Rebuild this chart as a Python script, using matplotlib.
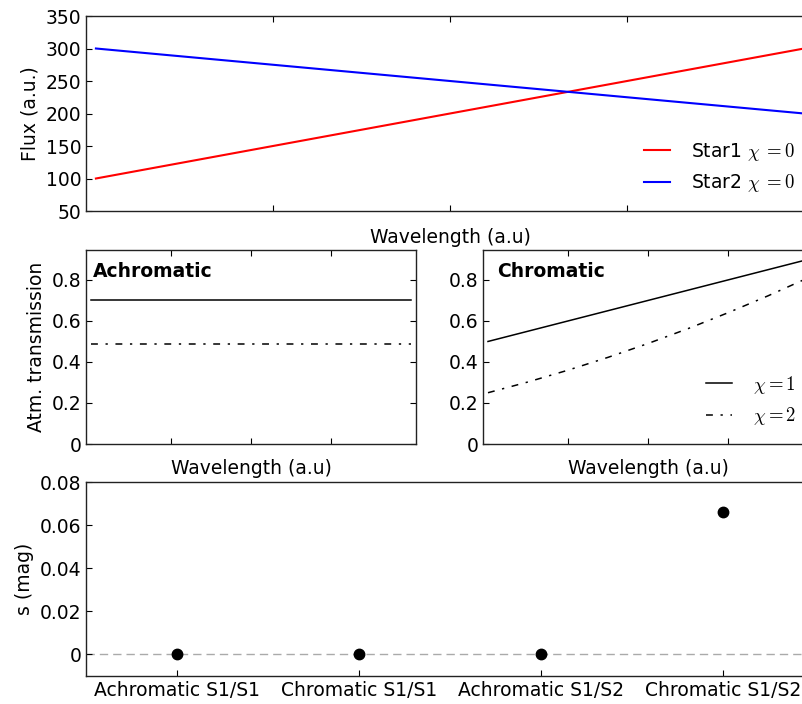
import numpy as np
import matplotlib
matplotlib.use("Agg")
import matplotlib.pyplot as plt
from matplotlib.ticker import FuncFormatter

# data
wavelength = [0, 1, 2, 3, 4]
star1_flux = [100, 150, 200, 250, 300]
star2_flux = [300, 275, 250, 225, 200]

wl_fine = [0, 0.5, 1, 1.5, 2, 2.5, 3, 3.5, 4]
achro_x1 = [0.7, 0.7, 0.7, 0.7, 0.7, 0.7, 0.7, 0.7, 0.7]
achro_x2 = [0.49, 0.49, 0.49, 0.49, 0.49, 0.49, 0.49, 0.49, 0.49]
chro_x1 = [0.5, 0.55, 0.6, 0.65, 0.7, 0.75, 0.8, 0.85, 0.9]
chro_x2 = [0.25, 0.3025, 0.36, 0.4225, 0.49, 0.5625, 0.64, 0.7225, 0.81]

cases = ["Achromatic S1/S1", "Chromatic S1/S1", "Achromatic S1/S2", "Chromatic S1/S2"]
shift = [0.0, 0.0, 0.0, 0.066]

plt.rcParams['font.size'] = 13.5
plt.rcParams['mathtext.fontset'] = 'cm'
plt.rcParams['xtick.direction'] = 'in'
plt.rcParams['ytick.direction'] = 'in'
plt.rcParams['xtick.top'] = True
plt.rcParams['ytick.right'] = True
plt.rcParams['xtick.major.size'] = 4
plt.rcParams['ytick.major.size'] = 4
plt.rcParams['axes.linewidth'] = 1.0
plt.rcParams['axes.edgecolor'] = '#222222'

gfmt = FuncFormatter(lambda v, p: '%g' % round(v, 6))
dashdot = (0, (4.5, 5, 1.5, 5))

fig = plt.figure(figsize=(8.03, 7.04), dpi=100)

W = (814 - 86) / 803
# top: fluxes
ax1 = fig.add_axes([86 / 803, 1 - 211 / 704, W, 195 / 704])
ax1.plot(wavelength, star1_flux, color='red', label=r'Star1 $\chi\;{=}0$')
ax1.plot(wavelength, star2_flux, color='blue', label=r'Star2 $\chi\;{=}0$')
ax1.set_xlim(-0.056, 4.056)
ax1.set_ylim(50, 350)
ax1.set_xticks([1, 2, 3])
ax1.set_xticklabels([])
ax1.set_yticks([50, 100, 150, 200, 250, 300, 350])
ax1.set_ylabel('Flux (a.u.)')
ax1.set_xlabel('Wavelength (a.u)', labelpad=9)
ax1.legend(loc='lower right', frameon=False, handlelength=1.4, handletextpad=1.1,
           bbox_to_anchor=(0.997, 0.0))

# middle left: achromatic
ax2 = fig.add_axes([86 / 803, 1 - 444 / 704, 330 / 803, 194 / 704])
ax2.plot(wl_fine, achro_x1, color='black', lw=1.1)
ax2.plot(wl_fine, achro_x2, color='black', lw=1.1, ls=dashdot)
ax2.set_xlim(-0.0625, 4.0625)
ax2.set_ylim(0, 0.946)
ax2.set_xticks([1, 2, 3])
ax2.set_xticklabels([])
ax2.set_yticks([0, 0.2, 0.4, 0.6, 0.8])
ax2.yaxis.set_major_formatter(gfmt)
ax2.set_ylabel('Atm. transmission')
ax2.set_xlabel('Wavelength (a.u)', labelpad=7)
ax2.text(0.02, 0.94, 'Achromatic', transform=ax2.transAxes, fontweight='bold',
         va='top', ha='left')

# middle right: chromatic
ax3 = fig.add_axes([483 / 803, 1 - 444 / 704, 330 / 803, 194 / 704])
ax3.plot(wl_fine, chro_x1, color='black', lw=1.1, label=r'$\chi{=}1$')
ax3.plot(wl_fine, chro_x2, color='black', lw=1.1, ls=dashdot, label=r'$\chi{=}2$')
ax3.set_xlim(-0.0625, 4.0625)
ax3.set_ylim(0, 0.946)
ax3.set_xticks([1, 2, 3])
ax3.set_xticklabels([])
ax3.set_yticks([0, 0.2, 0.4, 0.6, 0.8])
ax3.yaxis.set_major_formatter(gfmt)
ax3.set_xlabel('Wavelength (a.u)', labelpad=7)
ax3.text(0.042, 0.94, 'Chromatic', transform=ax3.transAxes, fontweight='bold',
         va='top', ha='left')
ax3.legend(loc='lower right', frameon=False, handlelength=1.4, handletextpad=1.1,
           bbox_to_anchor=(1.0, 0.0))

# bottom: shifts
ax4 = fig.add_axes([86 / 803, 1 - 676 / 704, W, 194 / 704])
xpos = np.arange(len(cases))
ax4.axhline(0, color='#aaaaaa', ls=(0, (6, 3.6)), lw=1.0, zorder=1)
ax4.plot(xpos, shift, 'o', color='black', ms=7.5, zorder=3)
ax4.set_xlim(-0.5, 3.5)
ax4.set_ylim(-0.0102, 0.08)
ax4.set_xticks(xpos)
ax4.set_xticklabels(cases)
ax4.tick_params(axis='x', top=False)
ax4.set_yticks([0, 0.02, 0.04, 0.06, 0.08])
ax4.yaxis.set_major_formatter(gfmt)
ax4.set_ylabel('s (mag)')

fig.savefig('out.png', dpi=100)
